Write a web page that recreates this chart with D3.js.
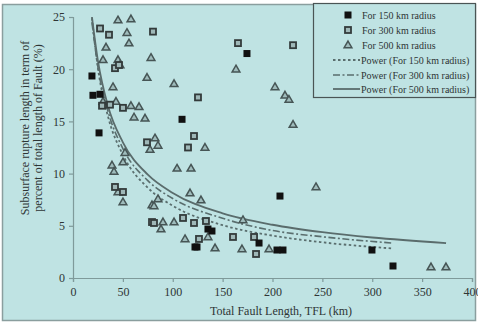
<!DOCTYPE html>
<html><head><meta charset="utf-8">
<script src="https://cdn.jsdelivr.net/npm/d3@7"></script>
<style>html,body{margin:0;padding:0;background:#fff;}svg{display:block;}</style>
</head><body>
<svg id="c" width="478" height="324"></svg>
<script>
// ---- data ----
const xTicks = [0, 50, 100, 150, 200, 250, 300, 350, 400];
const yTicks = [0, 5, 10, 15, 20, 25];
const seriesNames = ["For 150 km radius", "For 300 km radius", "For 500 km radius"];
const fitNames = ["Power (For 150 km radius)", "Power (For 300 km radius)", "Power (For 500 km radius)"];
const r150 = [[19.0,19.35],[20.0,17.5],[27.1,17.6],[26.1,13.9],[109.3,15.2],[174.4,21.5],[207.5,7.85],[135.3,4.69],[139.3,4.5],[122.3,2.97],[124.3,2.97],[186.5,3.35],[204.5,2.68],[210.5,2.68],[299.7,2.68],[320.8,1.15]];
const r300 = [[27.1,23.9],[36.1,23.3],[80.2,23.6],[42.1,20.1],[46.1,20.4],[29.1,16.5],[37.1,16.6],[50.1,16.3],[74.2,13.0],[42.1,8.72],[50.1,8.24],[79.2,5.36],[81.2,5.27],[110.3,5.75],[121.3,5.27],[133.3,5.46],[126.3,3.74],[160.4,3.93],[181.5,3.93],[183.5,2.3],[165.4,22.5],[220.6,22.3],[125.3,17.3],[121.3,13.6],[115.3,12.5]];
const r500 = [[45.1,24.7],[58.1,24.8],[54.1,23.5],[56.1,22.5],[33.1,22.1],[30.1,20.9],[45.1,20.9],[47.1,20.4],[78.2,21.1],[74.2,19.2],[101.3,18.6],[40.1,18.3],[30.1,16.9],[43.1,16.9],[58.1,16.5],[66.2,16.4],[61.2,15.4],[72.2,15.3],[82.2,13.4],[85.2,12.7],[77.2,12.3],[39.1,10.8],[41.1,10.2],[50.1,11.1],[52.1,12.0],[45.1,8.24],[50.1,7.28],[79.2,6.99],[85.2,7.57],[81.2,6.9],[90.2,5.36],[88.2,4.69],[101.3,5.36],[104.3,10.5],[118.3,10.5],[117.3,8.14],[128.3,7.47],[112.3,3.74],[135.3,3.93],[142.4,2.87],[170.4,5.56],[169.4,2.78],[196.5,2.78],[132.3,12.5],[163.4,20.0],[202.5,18.3],[212.5,17.5],[216.5,17.1],[220.6,14.7],[243.6,8.72],[358.9,1.05],[373.9,1.05]];
const fit150 = [[19,24.9],[25,20.1],[35,15.5],[50,11.8],[75,8.64],[100,6.92],[150,5.06],[200,4.06],[250,3.42],[320,2.83]];
const fit300 = [[19,24.5],[25,20.2],[35,16.0],[50,12.4],[75,9.33],[100,7.61],[150,5.72],[200,4.55],[250,3.95],[320,3.35]];
const fit500 = [[19,25.0],[25,20.8],[35,16.5],[50,13.0],[75,9.9],[100,8.15],[150,6.19],[200,5.1],[250,4.39],[300,3.88],[374,3.35]];

// ---- drawing ----
const svg = d3.select("#c");
const bg = "#bfe3e3", ink = "#2e3535", axisCol = "#7f9a9a";
svg.append("rect").attr("x",2.5).attr("y",4.5).attr("width",473).attr("height",316)
  .attr("fill",bg).attr("stroke","#8a9e9e").attr("stroke-width",1.5);

const x = d3.scaleLinear().domain([0,400]).range([73,472]);
const y = d3.scaleLinear().domain([0,25]).range([278,17]);
const font = "'Liberation Serif','Times New Roman',serif";

const gx = svg.append("g").attr("transform","translate(0,278)")
  .call(d3.axisBottom(x).tickValues(xTicks).tickSize(4).tickPadding(5).tickFormat(d3.format("d")));
const gy = svg.append("g").attr("transform","translate(73,0)")
  .call(d3.axisLeft(y).tickValues(yTicks).tickSize(4).tickPadding(4).tickFormat(d3.format("d")));
[gx,gy].forEach(g=>{
  g.select(".domain").attr("stroke",axisCol).attr("stroke-width",1.2);
  g.selectAll(".tick line").attr("stroke",axisCol).attr("stroke-width",1.2);
  g.selectAll(".tick text").attr("fill",ink).style("font-family",font).style("font-size","12px");
});

svg.append("text").attr("x",281).attr("y",315).attr("text-anchor","middle")
  .attr("fill",ink).style("font-family",font).style("font-size","12px")
  .text("Total Fault Length, TFL (km)");
const yt = svg.append("text").attr("transform","translate(29,128) rotate(-90)")
  .attr("text-anchor","middle").attr("fill",ink).style("font-family",font).style("font-size","12px");
yt.append("tspan").attr("x",0).attr("dy",0).text("Subsurface rupture length in term of");
yt.append("tspan").attr("x",0).attr("dy",13).text("percent of  total length of Fault (%)");

// fits
const line = d3.line().x(d=>x(d[0])).y(d=>y(d[1])).curve(d3.curveMonotoneX);
const fitStyles = [
  {data:fit150, dash:"2.5,2.5", w:1.8, col:"#5a6e6e"},
  {data:fit300, dash:"7,2.5,2,2.5", w:1.6, col:"#5a6e6e"},
  {data:fit500, dash:null, w:1.8, col:"#5a6c6c"}
];
fitStyles.forEach(s=>{
  svg.append("path").datum(s.data).attr("d",line).attr("fill","none")
    .attr("stroke",s.col).attr("stroke-width",s.w).attr("stroke-dasharray",s.dash);
});

// markers
function drawMarker(g, type, cx, cy){
  if(type===0){
    g.append("rect").attr("x",cx-3.5).attr("y",cy-3.5).attr("width",7).attr("height",7).attr("fill","#111");
  } else if(type===1){
    g.append("rect").attr("x",cx-3).attr("y",cy-3).attr("width",6).attr("height",6)
      .attr("fill","#9fb8b8").attr("stroke","#333b3b").attr("stroke-width",1.8);
  } else {
    g.append("path").attr("d",d3.symbol(d3.symbolTriangle,26)()).attr("transform",`translate(${cx},${cy+0.5})`)
      .attr("fill","#9fbcbc").attr("stroke","#465555").attr("stroke-width",1.5);
  }
}
const pts = svg.append("g");
[r500, r300, r150].forEach((arr,i)=>{
  const type = 2-i;
  arr.forEach(d=>drawMarker(pts, type, x(d[0]), y(d[1])));
});

// legend
const lg = svg.append("g");
lg.append("rect").attr("x",313.5).attr("y",3.5).attr("width",162).attr("height",94)
  .attr("fill",bg).attr("stroke","#4a5555").attr("stroke-width",1.2);
const rows = [15,30,45,60,75,89];
seriesNames.forEach((n,i)=>{
  drawMarker(lg, i, 348, rows[i]);
  lg.append("text").attr("x",362).attr("y",rows[i]+3.5).attr("fill",ink)
    .style("font-family",font).style("font-size","10px").text(n);
});
fitNames.forEach((n,i)=>{
  const s = fitStyles[i], ry = rows[i+3];
  lg.append("line").attr("x1",333).attr("x2",360).attr("y1",ry).attr("y2",ry)
    .attr("stroke",s.col).attr("stroke-width",s.w).attr("stroke-dasharray",s.dash);
  lg.append("text").attr("x",361).attr("y",ry+3.5).attr("fill",ink)
    .style("font-family",font).style("font-size","10px").text(n);
});
</script>
</body></html>
